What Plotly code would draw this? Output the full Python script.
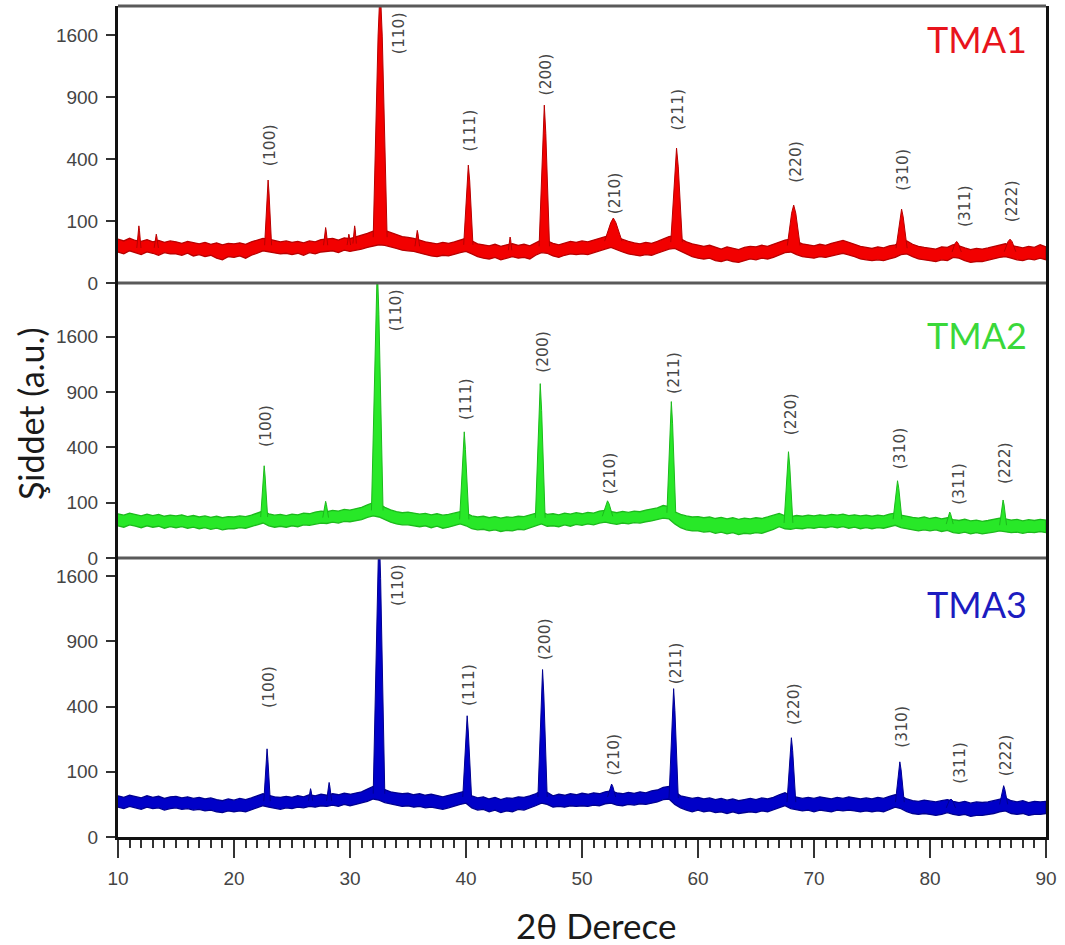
import numpy as np
import plotly.graph_objects as go
from plotly.subplots import make_subplots

# ---------------------------------------------------------------------------
# Data: XRD patterns of TMA1, TMA2, TMA3 (2-theta in degrees, intensity a.u.)
# Background noise band: upper / lower edge sampled every 0.5 deg (10..90)
# ---------------------------------------------------------------------------
two_theta_grid = np.arange(10.0, 90.001, 0.5)

tma1_bg_hi = [50, 46, 52, 47, 45, 49, 44, 47, 43, 46,
              44, 41, 45, 42, 40, 43, 39, 42, 38, 41,
              40, 42, 39, 44, 48, 52, 50, 47, 44, 46,
              43, 45, 42, 46, 44, 49, 50, 52, 48, 53,
              51, 55, 58, 64, 70, 74, 72, 66, 61, 56,
              54, 52, 48, 44, 42, 40, 43, 41, 44, 48,
              52, 46, 40, 38, 36, 39, 35, 38, 40, 37,
              39, 36, 42, 48, 46, 41, 38, 42, 45, 43,
              46, 44, 48, 52, 56, 60, 54, 49, 45, 42,
              40, 43, 41, 45, 50, 56, 58, 50, 44, 40,
              38, 35, 37, 33, 30, 34, 31, 29, 33, 35,
              34, 37, 35, 39, 43, 48, 50, 44, 40, 38,
              36, 39, 37, 41, 44, 47, 43, 39, 35, 33,
              31, 34, 32, 36, 38, 44, 46, 39, 35, 33,
              32, 30, 34, 33, 38, 36, 32, 29, 31, 30,
              32, 35, 38, 40, 37, 34, 32, 35, 33, 38,
              34]
tma1_bg_lo = [25, 22, 27, 24, 21, 25, 23, 20, 24, 22,
              22, 20, 23, 19, 21, 18, 20, 16, 14, 18,
              17, 19, 16, 20, 23, 27, 26, 24, 22, 23,
              21, 23, 20, 24, 22, 25, 26, 27, 24, 28,
              26, 28, 30, 33, 36, 38, 37, 34, 31, 28,
              27, 26, 24, 21, 19, 18, 20, 19, 21, 24,
              26, 22, 18, 16, 15, 17, 14, 16, 18, 16,
              17, 15, 20, 24, 23, 19, 17, 20, 22, 21,
              22, 21, 24, 27, 30, 33, 29, 25, 22, 20,
              19, 21, 20, 23, 26, 30, 31, 26, 22, 18,
              16, 15, 16, 13, 12, 14, 12, 11, 13, 15,
              14, 16, 15, 17, 20, 24, 25, 21, 18, 17,
              16, 18, 17, 19, 21, 23, 20, 18, 15, 14,
              13, 14, 13, 15, 17, 21, 22, 18, 15, 14,
              13, 12, 14, 13, 17, 16, 13, 11, 12, 12,
              13, 15, 17, 18, 16, 14, 13, 15, 14, 16,
              14]
tma1_peak_pos = [11.8, 13.3, 22.94, 27.9, 29.9, 30.4, 32.6, 35.8, 40.2, 43.8,
                 46.75, 52.7, 58.15, 68.25, 77.55, 82.3, 86.9]
tma1_peak_top = [85, 62, 276, 80, 62, 85, 2300, 72, 362, 55,
                 824, 110, 474, 158, 142, 45, 50]
tma1_peak_hw = [0.05, 0.05, 0.08, 0.05, 0.05, 0.05, 0.18, 0.06, 0.12, 0.05,
                0.13, 0.22, 0.15, 0.18, 0.14, 0.15, 0.18]
tma1_peak_foot = [0.18, 0.18, 0.30, 0.18, 0.15, 0.15, 0.60, 0.20, 0.40, 0.15,
                  0.45, 0.75, 0.50, 0.55, 0.48, 0.40, 0.50]
tma1_peak_hkl = [None, None, "(100)", None, None, None, "(110)", None, "(111)", None,
                 "(200)", "(210)", "(211)", "(220)", "(310)", "(311)", "(222)"]

tma2_bg_hi = [64, 60, 66, 61, 58, 63, 59, 62, 57, 60,
              58, 61, 56, 59, 55, 58, 54, 57, 53, 56,
              55, 58, 56, 60, 66, 72, 64, 60, 62, 59,
              63, 61, 66, 64, 69, 72, 70, 74, 72, 77,
              75, 80, 84, 92, 100, 96, 84, 76, 70, 67,
              69, 66, 63, 65, 61, 64, 60, 62, 66, 70,
              66, 58, 55, 57, 53, 56, 52, 55, 54, 57,
              56, 60, 66, 70, 62, 64, 61, 66, 63, 67,
              64, 68, 66, 72, 74, 70, 67, 71, 68, 72,
              70, 75, 78, 82, 90, 86, 70, 62, 58, 55,
              56, 53, 55, 51, 54, 50, 53, 49, 52, 50,
              53, 51, 55, 60, 65, 58, 56, 59, 57, 60,
              58, 61, 59, 62, 60, 63, 59, 61, 58, 60,
              57, 60, 58, 63, 66, 60, 56, 54, 52, 55,
              51, 54, 50, 53, 48, 46, 49, 45, 47, 44,
              46, 49, 52, 50, 47, 49, 45, 48, 46, 49,
              47]
tma2_bg_lo = [34, 31, 36, 33, 30, 34, 31, 33, 29, 32,
              30, 32, 29, 31, 28, 30, 27, 29, 26, 28,
              28, 30, 29, 32, 36, 40, 34, 31, 33, 31,
              34, 32, 36, 35, 38, 40, 39, 42, 40, 44,
              43, 46, 48, 54, 58, 55, 48, 42, 38, 36,
              36, 34, 32, 34, 30, 33, 29, 31, 34, 38,
              34, 28, 26, 27, 24, 26, 23, 25, 24, 27,
              26, 30, 34, 38, 33, 34, 32, 36, 33, 37,
              35, 38, 36, 40, 42, 39, 37, 40, 38, 41,
              40, 43, 45, 48, 52, 50, 38, 30, 26, 24,
              24, 22, 23, 20, 22, 19, 21, 18, 20, 19,
              21, 20, 23, 27, 32, 28, 27, 29, 28, 30,
              29, 31, 30, 32, 30, 32, 29, 31, 28, 30,
              28, 30, 29, 32, 35, 30, 27, 26, 24, 26,
              24, 26, 23, 25, 21, 20, 22, 19, 21, 19,
              20, 22, 24, 23, 21, 22, 20, 22, 21, 23,
              21]
tma2_peak_pos = [22.6, 27.9, 32.35, 39.85, 46.4, 52.2, 57.7, 67.8, 77.2, 81.7, 86.3]
tma2_peak_top = [278, 105, 2800, 520, 993, 107, 799, 369, 195, 69, 110]
tma2_peak_hw = [0.08, 0.07, 0.14, 0.10, 0.12, 0.14, 0.11, 0.11, 0.11, 0.09, 0.09]
tma2_peak_foot = [0.30, 0.25, 0.50, 0.40, 0.42, 0.45, 0.38, 0.38, 0.38, 0.30, 0.30]
tma2_peak_hkl = ["(100)", None, "(110)", "(111)", "(200)", "(210)", "(211)",
                 "(220)", "(310)", "(311)", "(222)"]

tma3_bg_hi = [40, 37, 41, 38, 36, 40, 37, 39, 35, 38,
              39, 36, 38, 35, 37, 34, 36, 33, 31, 34,
              32, 35, 33, 36, 40, 44, 41, 38, 37, 39,
              37, 40, 38, 42, 40, 43, 41, 44, 42, 45,
              43, 46, 48, 54, 60, 58, 52, 48, 46, 44,
              45, 42, 44, 41, 43, 40, 38, 41, 44, 47,
              50, 40, 36, 38, 34, 37, 33, 36, 35, 38,
              37, 40, 44, 50, 47, 40, 43, 41, 44, 42,
              45, 43, 46, 44, 48, 50, 46, 44, 47, 45,
              48, 46, 50, 52, 58, 60, 48, 40, 37, 35,
              37, 34, 36, 33, 35, 32, 34, 31, 33, 35,
              33, 36, 34, 37, 42, 46, 40, 37, 35, 37,
              35, 38, 36, 34, 37, 35, 38, 36, 34, 36,
              34, 37, 35, 39, 42, 40, 34, 31, 30, 32,
              30, 29, 31, 33, 30, 28, 30, 27, 29, 28,
              29, 31, 34, 36, 31, 29, 31, 28, 30, 29,
              30]
tma3_bg_lo = [21, 19, 22, 20, 18, 21, 19, 20, 17, 19,
              20, 18, 19, 17, 18, 16, 17, 15, 14, 16,
              15, 16, 15, 17, 20, 23, 21, 19, 18, 20,
              19, 21, 20, 22, 21, 23, 22, 24, 22, 25,
              23, 25, 27, 30, 34, 32, 28, 25, 24, 22,
              23, 21, 22, 20, 21, 19, 18, 20, 22, 25,
              27, 20, 17, 18, 15, 17, 14, 16, 15, 18,
              17, 20, 23, 27, 25, 21, 22, 21, 23, 22,
              23, 22, 24, 23, 26, 27, 24, 23, 25, 24,
              26, 25, 27, 29, 33, 34, 25, 20, 17, 15,
              17, 15, 16, 14, 15, 13, 15, 13, 14, 15,
              14, 16, 15, 17, 20, 23, 19, 17, 16, 17,
              15, 17, 16, 15, 17, 16, 17, 16, 15, 16,
              15, 16, 15, 18, 21, 19, 15, 13, 12, 13,
              12, 11, 12, 14, 12, 11, 12, 10, 11, 11,
              12, 13, 15, 16, 13, 12, 13, 11, 12, 12,
              13]
tma3_peak_pos = [22.85, 26.6, 28.2, 32.5, 40.1, 46.6, 52.55, 57.9, 68.05, 77.4, 81.8, 86.35]
tma3_peak_top = [183, 55, 70, 2300, 346, 660, 66, 518, 232, 133, 34, 62]
tma3_peak_hw = [0.07, 0.05, 0.06, 0.14, 0.10, 0.11, 0.11, 0.11, 0.11, 0.11, 0.15, 0.10]
tma3_peak_foot = [0.28, 0.18, 0.22, 0.50, 0.38, 0.40, 0.35, 0.40, 0.38, 0.38, 0.40, 0.35]
tma3_peak_hkl = ["(100)", None, None, "(110)", "(111)", "(200)", "(210)", "(211)",
                 "(220)", "(310)", "(311)", "(222)"]

intensity_ticks = [0, 100, 400, 900, 1600]
two_theta_ticks = [10, 20, 30, 40, 50, 60, 70, 80, 90]

# ---------------------------------------------------------------------------
# Panel styling (square-root intensity scale)
# ---------------------------------------------------------------------------
panels = [
    dict(name="TMA1", hi=tma1_bg_hi, lo=tma1_bg_lo, pos=tma1_peak_pos,
         top=tma1_peak_top, hw=tma1_peak_hw, foot=tma1_peak_foot, hkl=tma1_peak_hkl,
         fill="#f20000", edge="#b80000", text="#e8141c",
         ymax=44.7, domain=[0.6667, 1.0], name_y=0.960,
         gap={"(100)": 12, "(111)": 12, "(200)": 8, "(210)": 2, "(211)": 15,
              "(220)": 20, "(310)": 16, "(311)": 12, "(222)": 15}),
    dict(name="TMA2", hi=tma2_bg_hi, lo=tma2_bg_lo, pos=tma2_peak_pos,
         top=tma2_peak_top, hw=tma2_peak_hw, foot=tma2_peak_foot, hkl=tma2_peak_hkl,
         fill="#28e828", edge="#1cba1c", text="#3ad83a",
         ymax=49.7, domain=[0.3357, 0.6667], name_y=0.604,
         gap={"(100)": 17, "(111)": 10, "(200)": 9, "(210)": 4, "(211)": 6,
              "(220)": 15, "(310)": 9, "(311)": 5, "(222)": 14}),
    dict(name="TMA3", hi=tma3_bg_hi, lo=tma3_bg_lo, pos=tma3_peak_pos,
         top=tma3_peak_top, hw=tma3_peak_hw, foot=tma3_peak_foot, hkl=tma3_peak_hkl,
         fill="#0000c8", edge="#000090", text="#1c1cc0",
         ymax=42.8, domain=[0.0, 0.3357], name_y=0.280,
         gap={"(100)": 39, "(111)": 8, "(200)": 7, "(210)": 6, "(211)": 2,
              "(220)": 11, "(310)": 12, "(311)": 13, "(222)": 7}),
]
label_xshift = {"(311)": 9, "(110)": 19}
shoulder = 0.8  # fraction of peak height where the stem tapers to the tip

fig = make_subplots(rows=3, cols=1, shared_xaxes=True, vertical_spacing=0)

grid = list(two_theta_grid)
annotations = []
for k, p in enumerate(panels):
    row = k + 1
    hi_s = np.sqrt(np.array(p["hi"], dtype=float))
    lo_s = np.sqrt(np.array(p["lo"], dtype=float))

    # noise band of the background
    fig.add_trace(go.Scatter(
        x=grid + grid[::-1], y=list(hi_s) + list(lo_s[::-1]),
        mode="lines", fill="toself", fillcolor=p["fill"],
        line=dict(color=p["edge"], width=1.3), hoverinfo="skip",
        showlegend=False), row=row, col=1)

    # diffraction peaks
    px, py = [], []
    for pos, top, hw, foot in zip(p["pos"], p["top"], p["hw"], p["foot"]):
        i = int(np.argmin(np.abs(two_theta_grid - pos)))
        base = 0.5 * (hi_s[i] + lo_s[i])
        top_s = np.sqrt(top)
        mid = base + shoulder * (top_s - base)
        px += [pos - foot, pos - hw, pos, pos + hw, pos + foot, None]
        py += [base, mid, top_s, mid, base, None]
    fig.add_trace(go.Scatter(
        x=px, y=py, mode="lines", fill="toself", fillcolor=p["fill"],
        line=dict(color=p["edge"], width=1.0), hoverinfo="skip",
        showlegend=False), row=row, col=1)

    xref = "x" if row == 1 else f"x{row}"
    yref = "y" if row == 1 else f"y{row}"
    for pos, top, hkl in zip(p["pos"], p["top"], p["hkl"]):
        if hkl is None:
            continue
        top_s = np.sqrt(top)
        if top_s >= p["ymax"]:
            annotations.append(dict(
                x=pos, y=p["ymax"], xref=xref, yref=yref, text=hkl,
                textangle=-90, showarrow=False, xanchor="center", yanchor="top",
                xshift=label_xshift.get(hkl, 2), yshift=-4,
                font=dict(family="DejaVu Sans", size=15.5, color="#474747")))
        else:
            annotations.append(dict(
                x=pos, y=top_s, xref=xref, yref=yref, text=hkl,
                textangle=-90, showarrow=False, xanchor="center", yanchor="bottom",
                xshift=label_xshift.get(hkl, 2), yshift=p["gap"][hkl],
                font=dict(family="DejaVu Sans", size=15.5, color="#474747")))

    annotations.append(dict(
        x=0.926, y=p["name_y"], xref="paper", yref="paper", text=p["name"],
        showarrow=False, xanchor="center", yanchor="middle",
        font=dict(family="Lato", size=36, color=p["text"])))

    yaxis_key = "yaxis" if row == 1 else f"yaxis{row}"
    fig.layout[yaxis_key].update(
        domain=p["domain"], range=[0, p["ymax"]],
        tickvals=list(np.sqrt(intensity_ticks)),
        ticktext=[str(v) for v in intensity_ticks],
        ticks="outside", ticklen=9, tickwidth=2, tickcolor="#333333",
        ticklabelstandoff=4,
        tickfont=dict(family="Liberation Sans, Arial", size=19, color="#444444"),
        showline=True, linecolor="#111111", linewidth=3, mirror=True,
        showgrid=False, zeroline=False)

# x axes
for row in (1, 2):
    key = "xaxis" if row == 1 else f"xaxis{row}"
    fig.layout[key].update(range=[10, 90], showticklabels=False, ticks="",
                           showline=False, showgrid=False, zeroline=False)
fig.layout["xaxis3"].update(
    range=[10, 90], tickvals=two_theta_ticks,
    ticks="outside", ticklen=18, tickwidth=2, tickcolor="#333333",
    minor=dict(dtick=1, ticks="outside", ticklen=8, tickwidth=1.5, tickcolor="#333333"),
    tickfont=dict(family="Liberation Sans, Arial", size=19, color="#444444"),
    ticklabelstandoff=4,
    showline=True, linecolor="#111111", linewidth=3,
    showgrid=False, zeroline=False)

# axis titles
annotations.append(dict(
    x=-0.0948, y=0.509, xref="paper", yref="paper", text="Şiddet (a.u.)",
    textangle=-90, showarrow=False, xanchor="center", yanchor="middle",
    font=dict(family="Lato", size=34, color="#1a1a1a")))
annotations.append(dict(
    x=0.515, y=-0.106, xref="paper", yref="paper", text="2θ Derece",
    showarrow=False, xanchor="center", yanchor="middle",
    font=dict(family="Lato", size=35, color="#1a1a1a")))

# panel frames
shapes = []
for yy in (1.0, 0.6667, 0.3357):
    shapes.append(dict(type="line", xref="paper", yref="paper", x0=0, x1=1,
                       y0=yy, y1=yy, line=dict(color="#5a5a5a", width=3)))

fig.update_layout(
    width=1065, height=945,
    margin=dict(l=118, r=19, t=6, b=108),
    paper_bgcolor="white", plot_bgcolor="white",
    annotations=annotations, shapes=shapes,
    showlegend=False,
)

fig.write_html("out.html")
